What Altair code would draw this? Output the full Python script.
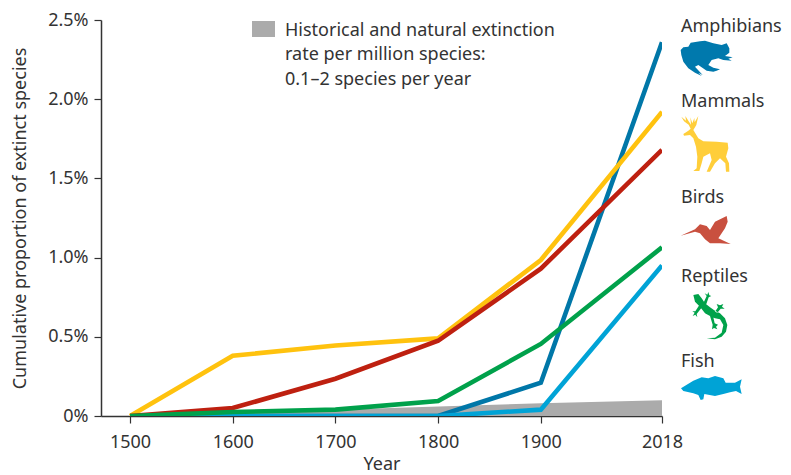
import altair as alt
import pandas as pd

FONT = "Noto Sans"
INK = "#333333"
FS = 18

years = [1500, 1600, 1700, 1800, 1900, 2018]
tick_years = years
background = [0.0, 0.02, 0.04, 0.06, 0.08, 0.10]
mammals = [0.0, 0.38, 0.445, 0.49, 0.985, 1.92]
birds = [0.0, 0.05, 0.235, 0.475, 0.93, 1.68]
reptiles = [0.0, 0.025, 0.04, 0.095, 0.455, 1.065]
amphibians = [0.0, 0.0, 0.0, 0.0, 0.21, 2.36]
fish = [0.0, 0.0, 0.0, 0.0, 0.04, 0.95]

series = [
    ("Amphibians", amphibians, "#0077A8"),
    ("Fish", fish, "#00A3D6"),
    ("Mammals", mammals, "#FFC20E"),
    ("Birds", birds, "#BE2010"),
    ("Reptiles", reptiles, "#00A14B"),
]

note_lines = [
    "Historical and natural extinction",
    "rate per million species:",
    "0.1–2 species per year",
]
note_y = [11, 35, 60]

label_names = ["Amphibians", "Mammals", "Birds", "Reptiles", "Fish"]
label_y = [7, 82, 178, 257, 342]

frog = [[(62,150),(70,142),(85,140),(92,128),(120,124),(135,122),(160,130),(185,135),(200,130),(208,145),(208,158),
         (195,168),(218,172),(205,176),(215,182),(190,180),(175,175),(155,180),(145,195),(160,203),(180,208),(170,212),
         (160,215),(140,212),(115,195),(105,200),(128,225),(115,218),(125,228),(105,218),(85,205),(70,185),(64,165)]]
deer = [[(70,402),(85,392),(92,386),(86,374),(72,364),(64,350),(78,362),(76,348),(86,364),(93,374),(91,352),(97,370),
         (103,354),(104,367),(115,348),(109,375),(100,390),(105,398),(115,415),(130,424),(170,425),(203,428),(205,445),
         (198,470),(207,490),(208,515),(198,515),(196,490),(180,475),(165,490),(150,515),(140,515),(155,480),(150,460),
         (130,470),(125,490),(118,513),(100,513),(110,505),(112,470),(108,440),(100,415),(90,405),(72,407)]]
bird = [[(62,137),(105,118),(120,103),(140,108),(150,120),(165,95),(200,78),(203,95),(195,115),(175,145),(212,162),
         (180,160),(150,160),(135,148),(120,130),(105,125)]]
gecko = [[(100,315),(115,312),(125,325),(135,340),(150,352),(165,362),(180,370),(195,385),(202,405),(198,425),(185,440),
          (165,448),(140,445),(165,443),(185,428),(190,405),(180,388),(165,385),(150,378),(135,370),(120,350),(105,335)],
         [(130,340),(140,318),(134,310),(142,314),(145,306),(148,316),(154,318),(146,322),(138,345)],
         [(118,345),(126,352),(110,372),(112,382),(106,374),(98,378),(104,368),(97,364),(106,364)],
         [(165,365),(172,368),(182,356),(194,356),(186,350),(190,342),(180,346),(170,342),(174,352)],
         [(150,378),(160,382),(164,400),(174,404),(168,410),(172,418),(162,414),(156,418),(158,404)]]
fishy = [[(63,595),(100,572),(125,562),(145,565),(165,558),(190,565),(197,578),(225,578),(245,568),(240,590),(245,612),
          (228,603),(210,607),(190,612),(165,618),(133,612),(130,628),(122,630),(115,615),(100,610),(70,603)]]


def to_path(polys):
    return " ".join(
        "M" + " L".join(f"{x},{y}" for x, y in poly) + " Z" for poly in polys
    )


# Each outline is in crop units (3 per pixel); the symbol scale is sqrt(size)/2.
icons = [
    (frog, "#0079AD", 559, -20),
    (deer, "#FFCE3A", 559, -20),
    (bird, "#C9503F", 559, 170),
    (gecko, "#00A24A", 559, 170),
    (fishy, "#00A3D6", 559, 170),
]

x_scale = alt.Scale(domain=[1471.7, 2018], nice=False, zero=False)
y_scale = alt.Scale(domain=[0, 2.5], nice=False)

bg_df = pd.DataFrame({"year": years, "v": background})
bg = alt.Chart(bg_df).mark_area(color="#ABABAB", clip=True, opacity=1).encode(
    x=alt.X("year:Q", scale=x_scale,
            axis=alt.Axis(values=tick_years, format="d", title="Year", titleFont=FONT, titleFontSize=FS,
                          titleFontWeight="normal", titleColor=INK, labelFont=FONT, labelFontSize=FS,
                          labelColor=INK, domainColor=INK, tickColor=INK, domainWidth=1.5, tickWidth=1.2,
                          tickSize=7, labelPadding=10, titlePadding=4, grid=False, labelFlush=False,
                          labelOverlap=False)),
    y=alt.Y("v:Q", scale=y_scale,
            axis=alt.Axis(values=[0, 0.5, 1, 1.5, 2, 2.5],
                          labelExpr="datum.value === 0 ? '0%' : format(datum.value, '.1f') + '%'",
                          title="Cumulative proportion of extinct species", titleFont=FONT, titleFontSize=FS,
                          titleFontWeight="normal", titleColor=INK, labelFont=FONT, labelFontSize=FS,
                          labelColor=INK, domainColor=INK, tickColor=INK, domainWidth=1.5, tickWidth=1.2,
                          tickSize=7, labelPadding=6, titlePadding=18, grid=False)),
)

layers = [bg]
for name, vals, col in series:
    df = pd.DataFrame({"year": years, "v": vals})
    layers.append(
        alt.Chart(df).mark_line(color=col, strokeWidth=4.6, clip=True, strokeJoin="miter", strokeCap="butt").encode(
            x=alt.X("year:Q", scale=x_scale), y=alt.Y("v:Q", scale=y_scale))
    )

for polys, col, ox, oy in icons:
    layers.append(
        alt.Chart(pd.DataFrame({"k": [0]})).mark_point(
            shape=to_path(polys), filled=True, opacity=1, color=col, size=4 / 9, strokeWidth=0
        ).encode(x=alt.value(ox), y=alt.value(oy))
    )

labels_df = pd.DataFrame({"name": label_names, "y": label_y})
layers.append(
    alt.Chart(labels_df).mark_text(align="left", baseline="middle", font=FONT, fontSize=FS, color=INK, x=580).encode(
        y=alt.Y("y:Q", scale=None), text="name:N")
)

note_df = pd.DataFrame({"line": note_lines, "y": note_y})
layers.append(
    alt.Chart(note_df).mark_text(align="left", baseline="middle", font=FONT, fontSize=FS, color=INK, x=184).encode(
        y=alt.Y("y:Q", scale=None), text="line:N")
)
layers.append(
    alt.Chart(pd.DataFrame({"k": [0]})).mark_rect(color="#ABABAB").encode(
        x=alt.value(151), x2=alt.value(174), y=alt.value(1), y2=alt.value(17))
)

chart = alt.layer(*layers).properties(
    width=561, height=396,
    autosize=alt.AutoSizeParams(type="none"),
    padding={"left": 93, "top": 12, "right": 121, "bottom": 59},
).configure_view(stroke=None)

chart.save("out.html", embed_options={"renderer": "svg", "actions": False})
